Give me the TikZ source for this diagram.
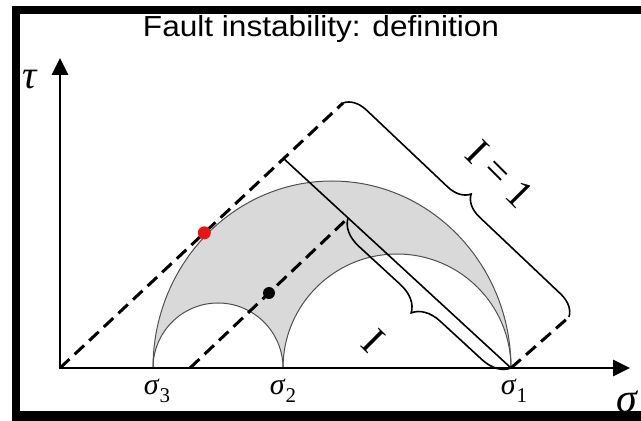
\documentclass[tikz,border=0pt]{standalone}
\usepackage{graphicx}
\usepackage{fontspec}
\setmainfont{Liberation Serif}
\newfontfamily\titlefont{Liberation Sans}
\usetikzlibrary{arrows.meta,decorations.pathreplacing,calc}
\definecolor{regiongray}{RGB}{217,217,217}
\definecolor{arcgray}{RGB}{80,80,80}
\newcommand\sigl[1]{\fontsize{30}{30}\selectfont\textit{σ}\raisebox{-8pt}{\fontsize{21}{21}\selectfont #1}}
\begin{document}
\begin{tikzpicture}[x=1pt,y=1pt,
  axis/.style={line width=2.8pt,{Triangle[length=17pt,width=16pt]}-{Triangle[length=17pt,width=16pt]}},
  dashline/.style={line width=3pt,dash pattern=on 13pt off 7pt},
  solidline/.style={line width=1.6pt},
  mohr/.style={draw=arcgray,line width=1pt},
  bracestyle/.style={line width=1.6pt,decorate,decoration={brace,amplitude=22pt}},
  bracemirror/.style={line width=1.6pt,decorate,decoration={brace,mirror,amplitude=27pt}},
  lbl/.style={inner sep=0pt},
  dot/.style={circle,inner sep=0pt,minimum size=#1},
  framebar/.style={fill=black}]
\useasboundingbox (0,0) rectangle (641,421);
\fill[white] (0,0) rectangle (641,421);

\coordinate (O) at (60,53);
\coordinate (ytip) at (60,363);
\coordinate (xtip) at (630,53);
\coordinate (s3) at (153,53);
\coordinate (s2) at (283,53);
\coordinate (s1) at (511,53);
\coordinate (T1) at (343,318);
\coordinate (F1) at (283,263);
\coordinate (R1) at (569,104);
\coordinate (A2) at (190,53);
\coordinate (F2) at (348,203);

% shaded region between the circles
\fill[regiongray] (s3) arc[start angle=180,end angle=0,x radius=179,y radius=187]
  arc[start angle=0,end angle=180,radius=114]
  arc[start angle=0,end angle=180,radius=65] -- cycle;
\draw[mohr] (s3) arc[start angle=180,end angle=0,x radius=179,y radius=187];
\draw[mohr] (s2) arc[start angle=180,end angle=0,radius=114];
\draw[mohr] (s3) arc[start angle=180,end angle=0,radius=65];

% axes
\draw[axis] (ytip) -- (O) -- (xtip);

% lines
\draw[dashline] (O) -- (T1);
\draw[dashline] (s1) -- (R1);
\draw[dashline] (A2) -- (F2);
\draw[solidline] (F1) -- (s1);
\draw[bracestyle] (T1) -- (R1);
\draw[bracemirror] (F2) -- (s1);

% points
\node[dot=13pt,fill={rgb,255:red,235;green,20;blue,20}] (reddot) at ($(O)!0.51!(T1)$) {};
\node[dot=12pt,fill=black] (blackdot) at ($(A2)!0.5!(F2)$) {};

% labels
\node[lbl,anchor=base] (title) at (321,384) {\titlefont\fontsize{29}{29}\selectfont\scalebox{1.09}[1]{Fault instability: definition}};
\node[lbl] (tau) at (30,341) {\fontsize{40}{40}\selectfont\textit{τ}};
\node[lbl,anchor=base] (sigma) at (628,8) {\fontsize{42}{42}\selectfont\textit{σ}};
\node[lbl,anchor=base] (ls3) at (157,26) {\sigl{3}};
\node[lbl,anchor=base] (ls2) at (283,26) {\sigl{2}};
\node[lbl,anchor=base] (ls1) at (514,26) {\sigl{1}};
\node[lbl,rotate=-45] (lI1) at (500,247) {\fontsize{40}{40}\selectfont I = 1};
\node[lbl,rotate=-45] (lI) at (373,80) {\fontsize{40}{40}\selectfont I};

% frame
\fill[framebar] (12,0) rectangle (20,415);
\fill[framebar] (12,407) rectangle (641,415);
\fill[framebar] (12,0) rectangle (641,10);
\end{tikzpicture}
\end{document}
